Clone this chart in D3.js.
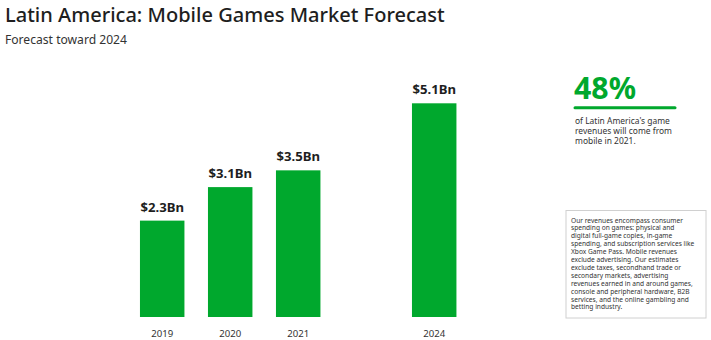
<!DOCTYPE html>
<html>
<head>
<meta charset="utf-8">
<script src="https://cdn.jsdelivr.net/npm/d3@7"></script>
<style>
  html, body { margin: 0; padding: 0; background: #fff; }
  svg { display: block; font-family: "Noto Sans", "Open Sans", sans-serif; }
</style>
</head>
<body>
<svg id="chart" width="711" height="340"></svg>
<script>
// Mobile games revenue, Latin America (US$ billions)
const slots = ["2019", "2020", "2021", "gap", "2024"];
const years = ["2019", "2020", "2021", "2024"];
const revenue = [2.3, 3.1, 3.5, 5.1];
const valueLabels = ["$2.3Bn", "$3.1Bn", "$3.5Bn", "$5.1Bn"];

const titleText = "Latin America: Mobile Games Market Forecast";
const subtitleText = "Forecast toward 2024";
const statValue = "48%";
const statLines = ["of Latin America's game", "revenues will come from", "mobile in 2021."];
const noteLines = [
  "Our revenues encompass consumer",
  "spending on games: physical and",
  "digital full-game copies, in-game",
  "spending, and subscription services like",
  "Xbox Game Pass. Mobile revenues",
  "exclude advertising. Our estimates",
  "exclude taxes, secondhand trade or",
  "secondary markets, advertising",
  "revenues earned in and around games,",
  "console and peripheral hardware, B2B",
  "services, and the online gambling and",
  "betting industry."
];

const GREEN = "#00a82d";
const INK = "#1e1e1e";
const svg = d3.select("#chart");

// size a text element so it spans a given width
function fitWidth(sel, width) {
  const node = sel.node();
  const fs = parseFloat(sel.attr("font-size"));
  const w = node.getComputedTextLength();
  if (w > 0) sel.attr("font-size", (fs * width / w).toFixed(2));
  return sel;
}

// Title block
fitWidth(svg.append("text").attr("x", 5).attr("y", 22)
  .attr("font-size", 18).attr("font-weight", 500).attr("fill", INK)
  .text(titleText), 440);
fitWidth(svg.append("text").attr("x", 5).attr("y", 43.5)
  .attr("font-size", 11).attr("fill", "#333")
  .text(subtitleText), 122);

// Bars
const baseY = 317;
const x = d3.scaleBand().domain(slots).range([128.2, 468.2])
  .paddingInner(0.346).paddingOuter(0.173);
const y = d3.scaleLinear().domain([0, 5.1]).range([baseY, 103.3]);

const data = years.map((yr, i) => ({ yr, v: revenue[i], label: valueLabels[i] }));

svg.append("g").selectAll("rect").data(data).join("rect")
  .attr("x", d => x(d.yr))
  .attr("y", d => y(d.v))
  .attr("width", x.bandwidth())
  .attr("height", d => baseY - y(d.v))
  .attr("fill", GREEN);

svg.append("g").selectAll("text").data(data).join("text")
  .attr("x", d => x(d.yr) + x.bandwidth() / 2)
  .attr("y", d => y(d.v) - 9)
  .attr("text-anchor", "middle")
  .attr("font-size", 13).attr("font-weight", 700).attr("fill", INK)
  .text(d => d.label)
  .each(function () { fitWidth(d3.select(this), 43.5); });

// Category axis (labels only)
const axis = svg.append("g").attr("transform", `translate(0,${baseY})`)
  .call(d3.axisBottom(x).tickValues(years).tickSize(0).tickPadding(13.5));
axis.select(".domain").remove();
axis.selectAll("text").attr("font-size", 9.5).attr("fill", "#333")
  .attr("font-family", "Noto Sans, sans-serif")
  .each(function () { fitWidth(d3.select(this), 22); });

// Highlight stat
fitWidth(svg.append("text").attr("x", 574).attr("y", 99)
  .attr("font-size", 26).attr("font-weight", 700).attr("fill", GREEN)
  .text(statValue), 62);
svg.append("line").attr("x1", 575).attr("x2", 675)
  .attr("y1", 107.7).attr("y2", 107.7)
  .attr("stroke", GREEN).attr("stroke-width", 3).attr("stroke-linecap", "round");
const statText = svg.append("g");
statLines.forEach((line, i) => {
  statText.append("text").attr("x", 575).attr("y", 123.5 + i * 10.3)
    .attr("font-size", 8).attr("fill", "#333").text(line);
});
fitWidth(statText.select("text"), 95);
const statFs = statText.select("text").attr("font-size");
statText.selectAll("text").attr("font-size", statFs);

// Methodology note box
svg.append("rect").attr("x", 566).attr("y", 210.5)
  .attr("width", 140).attr("height", 107.5)
  .attr("fill", "#fff").attr("stroke", "#d0d0d0").attr("stroke-width", 1);
const note = svg.append("g");
noteLines.forEach((line, i) => {
  note.append("text").attr("x", 571).attr("y", 222.5 + i * 7.9)
    .attr("font-size", 7).attr("fill", "#333").text(line);
});
fitWidth(note.select("text"), 112);
const noteFs = note.select("text").attr("font-size");
note.selectAll("text").attr("font-size", noteFs);
</script>
</body>
</html>
